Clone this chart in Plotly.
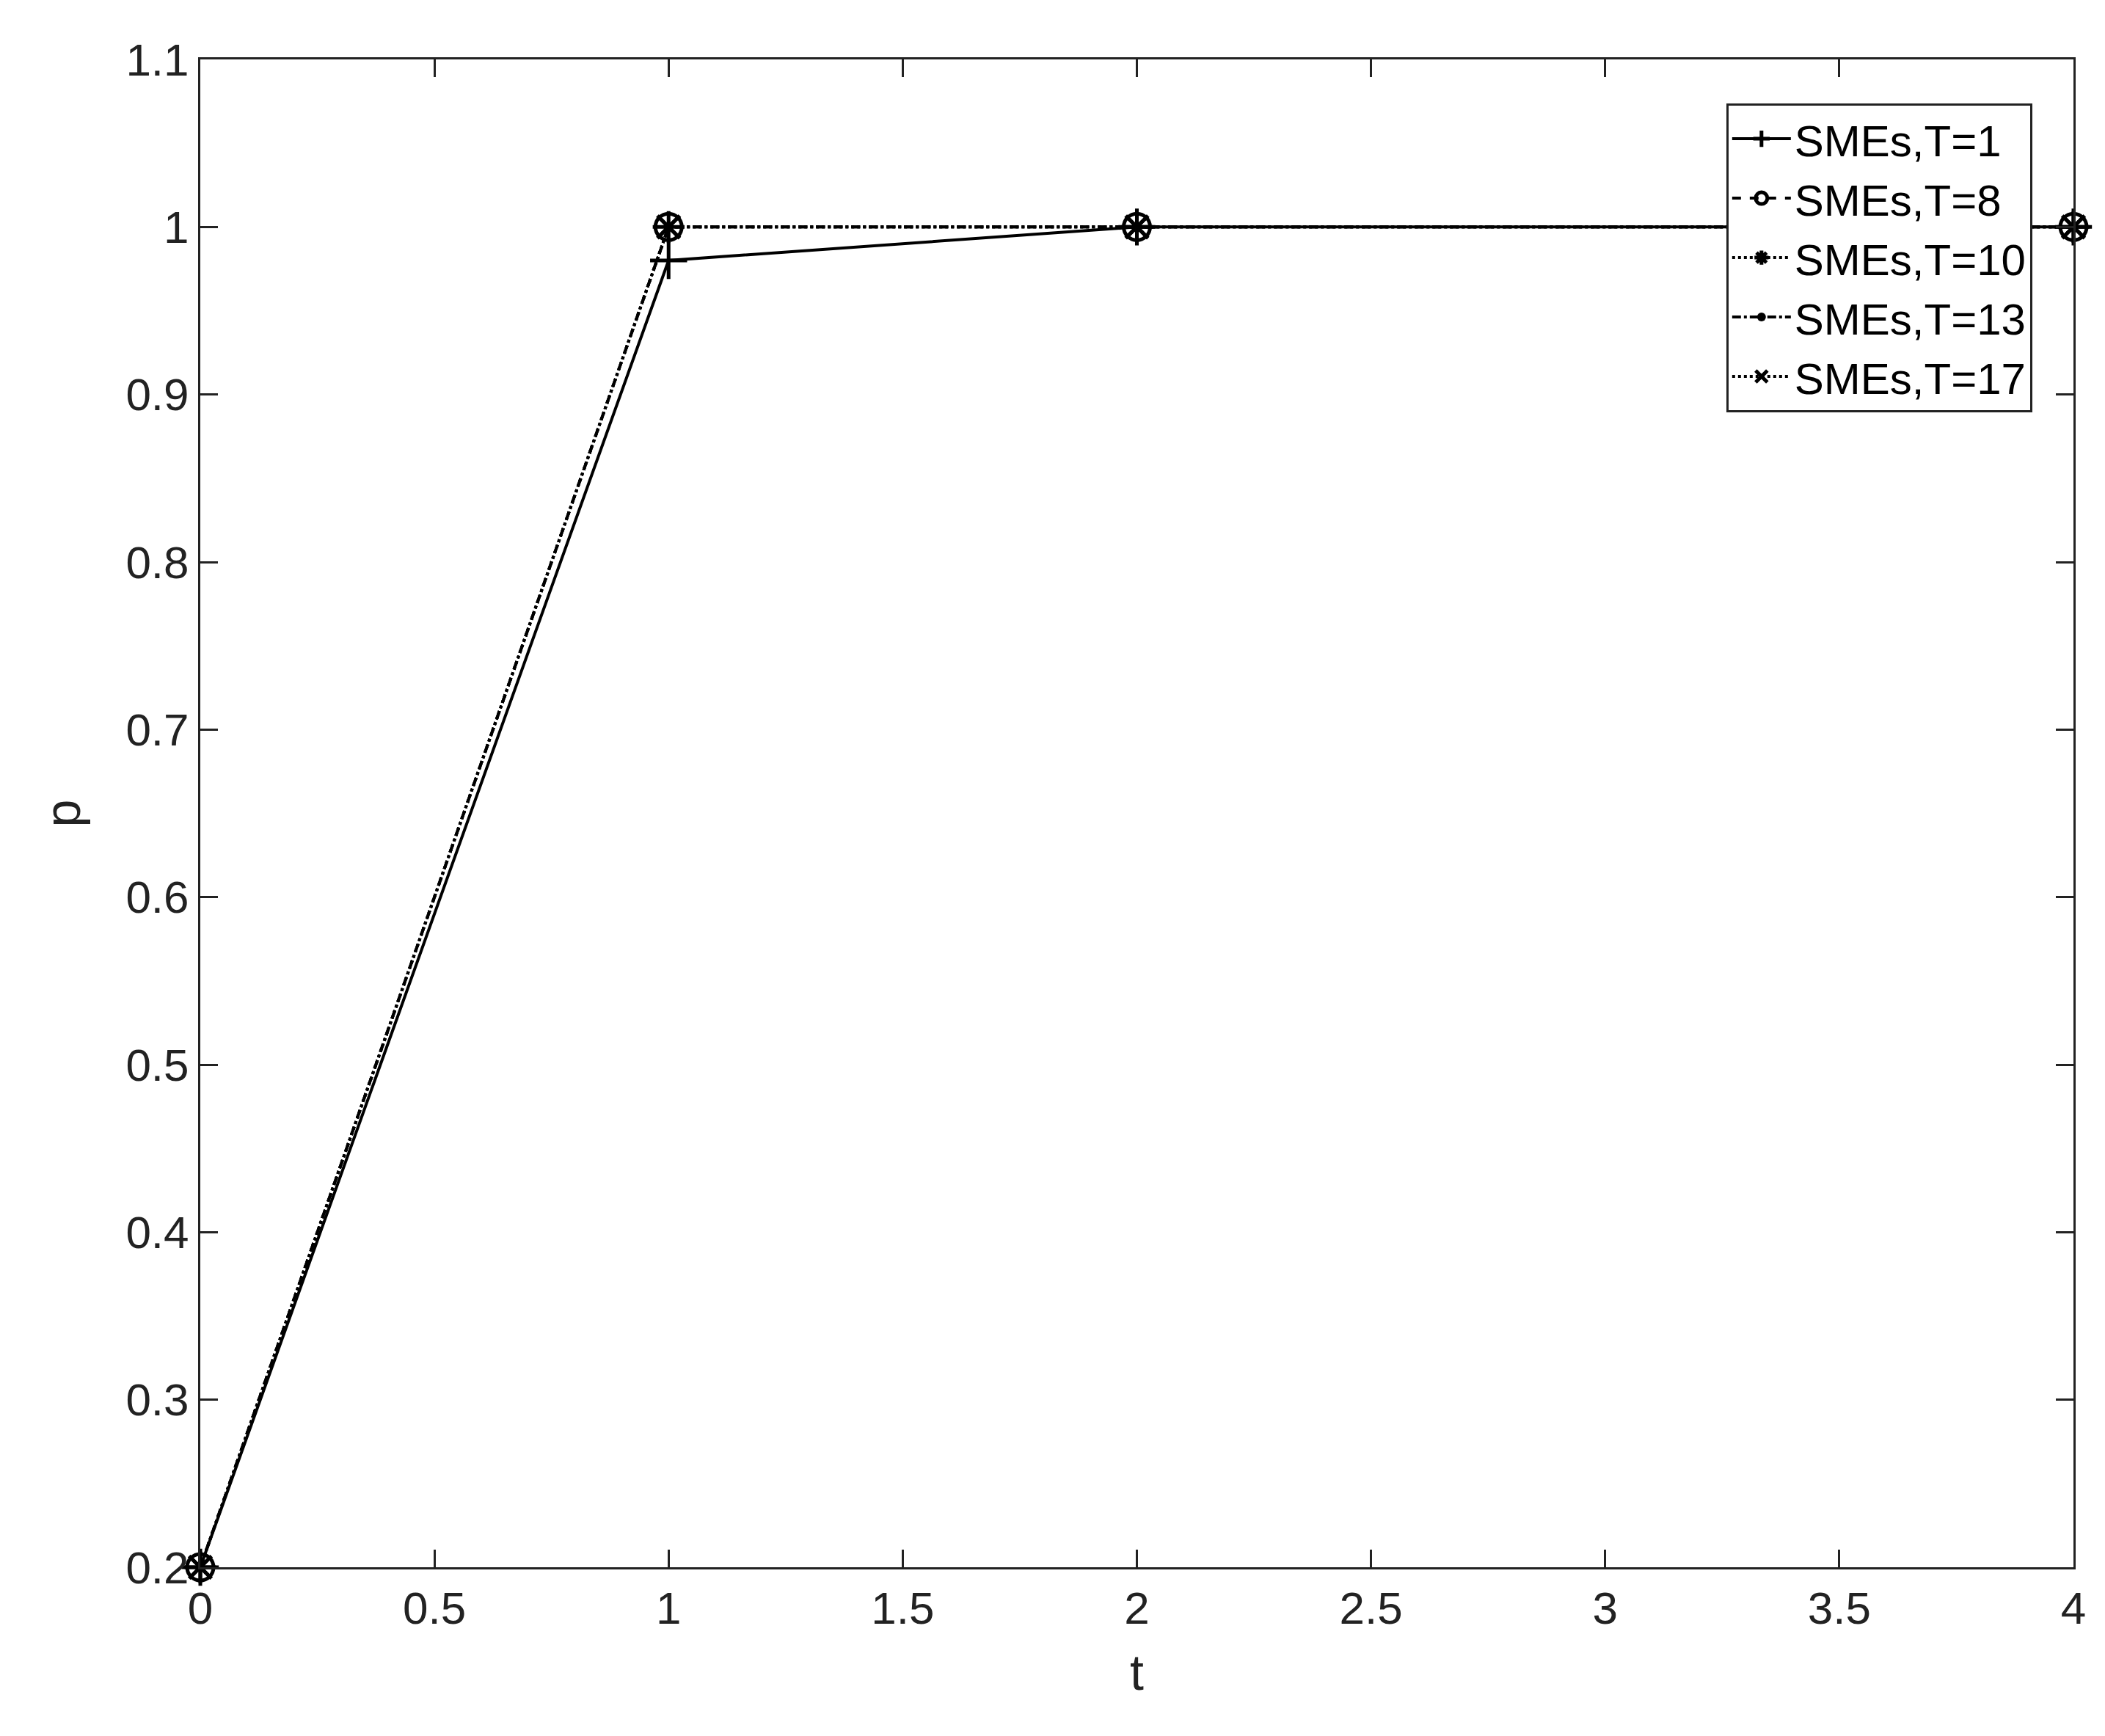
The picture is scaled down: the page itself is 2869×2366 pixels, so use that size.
import plotly.graph_objects as go

t = [0, 1, 2, 4]
series_names = ["SMEs,T=1", "SMEs,T=8", "SMEs,T=10", "SMEs,T=13", "SMEs,T=17"]
p_T1 = [0.2, 0.98, 1, 1]
p_T8 = [0.2, 1, 1, 1]
p_T10 = [0.2, 1, 1, 1]
p_T13 = [0.2, 1, 1, 1]
p_T17 = [0.2, 1, 1, 1]
values = [p_T1, p_T8, p_T10, p_T13, p_T17]
x_ticks = [0, 0.5, 1, 1.5, 2, 2.5, 3, 3.5, 4]
x_tick_labels = ["0", "0.5", "1", "1.5", "2", "2.5", "3", "3.5", "4"]
y_ticks = [0.2, 0.3, 0.4, 0.5, 0.6, 0.7, 0.8, 0.9, 1.0, 1.1]
y_tick_labels = ["0.2", "0.3", "0.4", "0.5", "0.6", "0.7", "0.8", "0.9", "1", "1.1"]

styles = [
    ("solid", "cross-thin-open", 36, dict(width=5)),
    ("dash", "circle-open", 36, dict(width=5)),
    ("dot", "asterisk-open", 36, dict(width=5)),
    ("dashdot", "circle", 12, dict(width=0)),
    ("dot", "x-thin-open", 30, dict(width=5)),
]

fig = go.Figure()
for name, vals, (dash, sym, size, mline) in zip(series_names, values, styles):
    fig.add_trace(go.Scatter(
        x=t, y=vals, name=name, mode="lines+markers", cliponaxis=False,
        line=dict(color="black", width=4, dash=dash),
        marker=dict(symbol=sym, size=size, color="black", line=dict(color="black", **mline)),
    ))

axis_common = dict(showline=True, linecolor="#222", linewidth=3, mirror="ticks",
                   ticks="inside", ticklen=24, tickwidth=3, tickcolor="#222",
                   showgrid=False, zeroline=False,
                   tickfont=dict(family="Arial, Liberation Sans", size=62, color="#222"))

fig.update_layout(
    width=2869, height=2366, plot_bgcolor="white", paper_bgcolor="white",
    margin=dict(l=265, r=51, t=73, b=238),
    font=dict(family="Arial, Liberation Sans", color="#222"),
    xaxis=dict(range=[0, 4], tickvals=x_ticks, ticktext=x_tick_labels,
               title=dict(text="t", font=dict(size=68), standoff=30), **axis_common),
    yaxis=dict(range=[0.2, 1.1], tickvals=y_ticks, ticktext=y_tick_labels,
               title=dict(text="p", font=dict(size=68), standoff=40), **axis_common),
    legend=dict(x=0.978, y=0.971, xanchor="right", yanchor="top",
                bgcolor="white", bordercolor="#222", borderwidth=3,
                font=dict(size=60, color="black"), itemwidth=80, tracegroupgap=14),
)
fig.write_html("out.html")
